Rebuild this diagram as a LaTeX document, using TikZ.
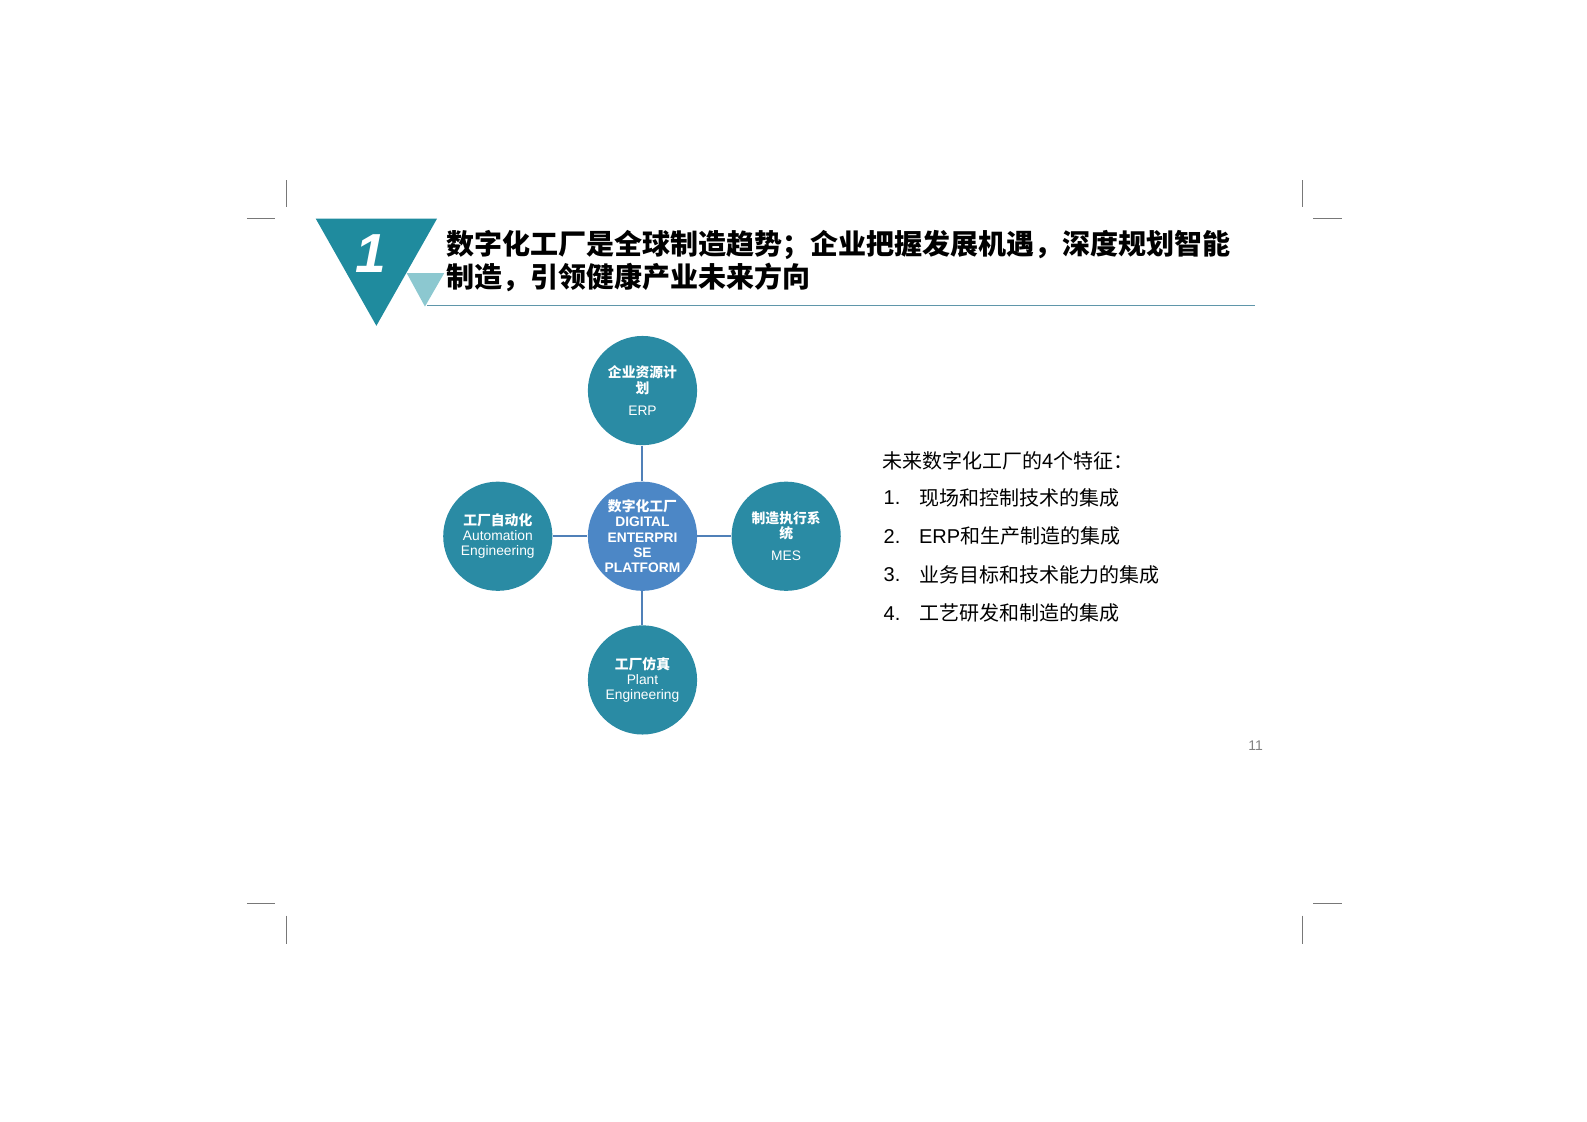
\documentclass[tikz,border=0pt]{standalone}
\usepackage{fontspec}
\setmainfont{Liberation Sans}
\newfontfamily\cjk{Noto Sans CJK SC}
\newcommand\zhb[1]{{\cjk\bfseries #1}}
\definecolor{teal1}{RGB}{31,139,158}
\definecolor{teallight}{RGB}{140,200,208}
\definecolor{circ}{RGB}{42,139,164}
\definecolor{circc}{RGB}{76,135,198}
\definecolor{conn}{RGB}{80,128,184}
\definecolor{rule}{RGB}{95,150,170}
\definecolor{crop}{RGB}{120,120,120}
\begin{document}
\begin{tikzpicture}[x=0.5059pt,y=-0.5059pt,
  bub/.style={circle,fill=circ,minimum size=54.6pt,inner sep=0pt,text=white,align=center,font=\fontsize{6.9pt}{7.6pt}\selectfont},
  link/.style={draw=conn,line width=1pt},
  cropline/.style={draw=crop,line width=0.6pt},
  listt/.style={anchor=west,inner sep=0pt,font=\cjk\fontsize{10pt}{12pt}\selectfont},
  numt/.style={anchor=west,inner sep=0pt,font=\fontsize{10pt}{12pt}\selectfont}]
\useasboundingbox (0,0) rectangle (1568.5,1108.9);
% crop marks
\draw[cropline] (283,178) -- (283,205) (244,216) -- (272,216);
\draw[cropline] (1287,178) -- (1287,205) (1298,216) -- (1326,216);
\draw[cropline] (244,893) -- (272,893) (283,905) -- (283,933);
\draw[cropline] (1298,893) -- (1326,893) (1287,905) -- (1287,933);
% header
\fill[teal1] (312,216) -- (432,216) -- (372,322) -- cycle;
\fill[teallight] (402,270) -- (439,270) -- (420,303) -- cycle;
\node[text=white,font=\bfseries\itshape\fontsize{27.5pt}{30pt}\selectfont] (one) at (366,251) {1};
\draw[draw=rule,line width=0.8pt] (422,302) -- (1240,302);
\node[anchor=west,inner sep=0pt,font=\cjk\bfseries\fontsize{14pt}{16pt}\selectfont] (t1) at (441,242) {数字化工厂是全球制造趋势；企业把握发展机遇，深度规划智能};
\node[anchor=west,inner sep=0pt,font=\cjk\bfseries\fontsize{14pt}{16pt}\selectfont] (t2) at (441,274) {制造，引领健康产业未来方向};
% circles
\node[bub] (erp) at (635,386) {\zhb{企业资源计}\\\zhb{划}\\[3.5pt]ERP};
\node[bub] (auto) at (492,530) {\zhb{工厂自动化}\\Automation\\Engineering};
\node[bub,fill=circc,font=\bfseries\fontsize{6.9pt}{7.6pt}\selectfont] (dep) at (635,530) {\zhb{数字化工厂}\\DIGITAL\\ENTERPRI\\SE\\PLATFORM};
\node[bub] (mes) at (777,530) {\zhb{制造执行系}\\\zhb{统}\\[3.5pt]MES};
\node[bub] (plant) at (635,672) {\zhb{工厂仿真}\\Plant\\Engineering};
\draw[link] (erp) -- (dep);
\draw[link] (auto) -- (dep);
\draw[link] (dep) -- (mes);
\draw[link] (dep) -- (plant);
% list
\node[listt] (h) at (872,455) {未来数字化工厂的4个特征：};
\node[numt] (n1) at (873,492) {1.};
\node[listt] (l1) at (908,492) {现场和控制技术的集成};
\node[numt] (n2) at (873,530) {2.};
\node[listt] (l2) at (908,530) {{\normalfont ERP}和生产制造的集成};
\node[numt] (n3) at (873,568) {3.};
\node[listt] (l3) at (908,568) {业务目标和技术能力的集成};
\node[numt] (n4) at (873,606) {4.};
\node[listt] (l4) at (908,606) {工艺研发和制造的集成};
\node[text=gray,font=\fontsize{7pt}{8pt}\selectfont] (pg) at (1241,737) {11};
\end{tikzpicture}
\end{document}
